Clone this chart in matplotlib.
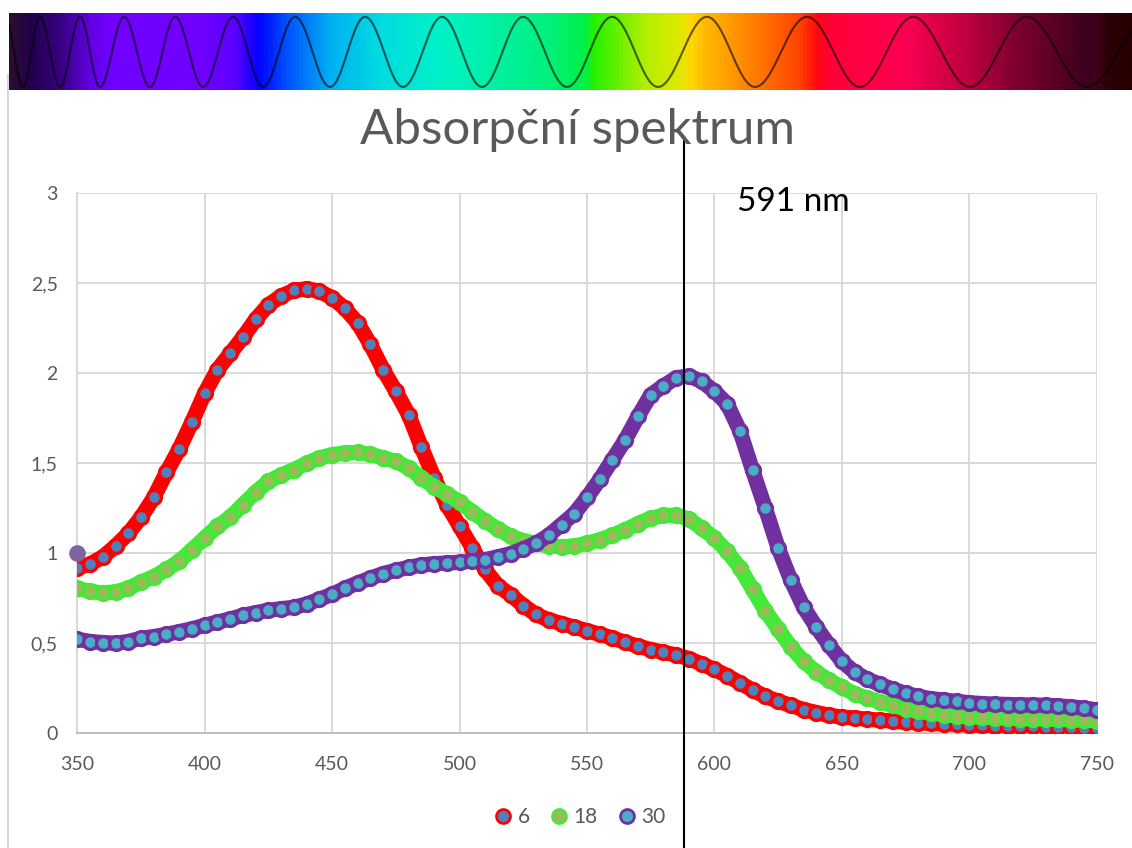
import numpy as np
import matplotlib
matplotlib.use("Agg")
import matplotlib.pyplot as plt
from matplotlib.colors import LinearSegmentedColormap
from matplotlib import transforms

plt.rcParams['font.family'] = ['Lato', 'DejaVu Sans']

# wavelengths (nm), every 5 nm
wl = np.arange(350, 751, 5)

# absorbance of the three samples
abs_6 = [0.92, 0.94, 0.98, 1.04, 1.11, 1.20, 1.31, 1.45, 1.58, 1.73,
         1.89, 2.02, 2.11, 2.20, 2.30, 2.38, 2.43, 2.46, 2.47, 2.455,
         2.42, 2.36, 2.28, 2.16, 2.02, 1.90, 1.77, 1.59, 1.42, 1.27,
         1.15, 1.03, 0.91, 0.82, 0.77, 0.71, 0.66, 0.63, 0.61, 0.59,
         0.57, 0.55, 0.53, 0.505, 0.485, 0.465, 0.45, 0.435, 0.415, 0.385,
         0.355, 0.32, 0.28, 0.24, 0.205, 0.178, 0.155, 0.132, 0.115, 0.10,
         0.09, 0.085, 0.078, 0.073, 0.068, 0.062, 0.058, 0.055, 0.052, 0.05,
         0.047, 0.045, 0.043, 0.041, 0.04, 0.038, 0.037, 0.035, 0.034, 0.032,
         0.031]
abs_18 = [0.806, 0.788, 0.78, 0.786, 0.805, 0.84, 0.87, 0.91, 0.955, 1.02,
          1.085, 1.15, 1.20, 1.27, 1.34, 1.40, 1.435, 1.465, 1.50, 1.53,
          1.548, 1.558, 1.56, 1.55, 1.53, 1.51, 1.475, 1.42, 1.37, 1.33,
          1.285, 1.23, 1.18, 1.135, 1.095, 1.07, 1.055, 1.04, 1.037, 1.04,
          1.056, 1.075, 1.10, 1.13, 1.165, 1.195, 1.21, 1.212, 1.19, 1.14,
          1.085, 1.01, 0.92, 0.80, 0.68, 0.58, 0.48, 0.40, 0.34, 0.295,
          0.255, 0.22, 0.195, 0.175, 0.155, 0.137, 0.122, 0.112, 0.104, 0.097,
          0.092, 0.089, 0.086, 0.084, 0.082, 0.08, 0.079, 0.077, 0.075, 0.073,
          0.07]
abs_30 = [0.522, 0.51, 0.504, 0.50, 0.51, 0.528, 0.537, 0.55, 0.565, 0.58,
          0.60, 0.618, 0.635, 0.655, 0.67, 0.683, 0.692, 0.70, 0.718, 0.745,
          0.772, 0.805, 0.835, 0.862, 0.887, 0.905, 0.922, 0.935, 0.942, 0.946,
          0.95, 0.957, 0.965, 0.98, 0.998, 1.025, 1.056, 1.10, 1.16, 1.22,
          1.31, 1.41, 1.52, 1.63, 1.76, 1.88, 1.93, 1.975, 1.985, 1.955,
          1.90, 1.83, 1.68, 1.46, 1.25, 1.03, 0.85, 0.70, 0.59, 0.49,
          0.40, 0.34, 0.30, 0.272, 0.245, 0.222, 0.205, 0.192, 0.185, 0.177,
          0.17, 0.165, 0.162, 0.16, 0.158, 0.157, 0.156, 0.152, 0.147, 0.14,
          0.13]
# stray single point at the start
extra_x = [350]
extra_y = [1.0]

labels = ["6", "18", "30"]
series = [abs_6, abs_18, abs_30]
faces = ["#4F81BD", "#9BBB59", "#4BACC6"]
edges = ["#FF0000", "#44E838", "#7030A0"]

marked_wl = 588
marked_label = "591 nm"

xticks = [350, 400, 450, 500, 550, 600, 650, 700, 750]
yticks = [0, 0.5, 1, 1.5, 2, 2.5, 3]
ytick_labels = ["0", "0,5", "1", "1,5", "2", "2,5", "3"]

W, H = 1132, 848
fig = plt.figure(figsize=(W / 100, H / 100), dpi=100)

# --- spectrum strip on top ---
strip = fig.add_axes([9 / W, 1 - 90 / H, (W - 9) / W, 77 / H])
stops = [(9, "#2c0c30"), (30, "#220050"), (60, "#3a0085"), (90, "#6400e8"),
         (110, "#7000ff"), (200, "#7000ff"), (235, "#5a00ff"), (257, "#0000ff"),
         (285, "#0050ff"), (330, "#00b0f2"), (380, "#00dce0"), (440, "#00f2c8"),
         (545, "#00f080"), (585, "#00f048"), (595, "#28f000"), (645, "#b0f000"),
         (680, "#e0e800"), (692, "#ffd800"), (705, "#ffba00"), (750, "#ff8400"),
         (800, "#ff4400"), (818, "#ff0a10"), (830, "#ff0038"), (900, "#ff0050"),
         (920, "#f00050"), (967, "#c00040"), (1017, "#800030"), (1067, "#520020"),
         (1090, "#3c0020"), (1100, "#40001a"), (1110, "#2c0008"), (1132, "#260000")]
pos = [(p - 9) / (W - 9) for p, _ in stops]
cmap = LinearSegmentedColormap.from_list("spec", list(zip(pos, [c for _, c in stops])))
grad = np.linspace(0, 1, 1200).reshape(1, -1)
strip.imshow(grad, aspect="auto", cmap=cmap, extent=[9, W, 0, 1])
# wave drawn through measured crest/trough positions (px)
ext = [5, 23, 40, 60, 80, 100, 124, 150, 175, 203, 233, 263, 295, 330, 365,
       403, 442, 482, 523, 567, 612, 658, 707, 755, 807, 860, 913, 970, 1027,
       1087, 1150]
px = np.linspace(9, W, 2000)
phase = np.interp(px, ext, np.arange(len(ext)) * np.pi)
strip.plot(px, 0.495 + 0.455 * np.cos(phase), color="black", lw=1.5, alpha=0.6)
strip.set_xlim(9, W)
strip.set_ylim(0, 1)
strip.axis("off")

# left border of the chart area
fig.add_artist(plt.Line2D([8 / W, 8 / W], [0, 1 - 75 / H], color="#d9d9d9", lw=1.5))

# --- main chart ---
ax = fig.add_axes([77.3 / W, 1 - 733.3 / H, (1096.7 - 77.3) / W, 540 / H])
for y, fc, ec, lab in zip(series, faces, edges, labels):
    ax.plot(wl, y, "-", color=ec, lw=11, solid_capstyle="round", zorder=3)
    ax.plot(wl, y, "o", ls="none", ms=10, mfc=fc, mec=ec, mew=2.4,
            zorder=3)
    # legend handle
    ax.plot([], [], "o", ls="none", ms=10, mfc=fc, mec=ec, mew=2.0, label=lab)
ax.plot(extra_x, extra_y, "o", ms=11, mfc="#8064A2", mec="#8064A2", zorder=4,
        clip_on=False)

ax.set_xlim(350, 750)
ax.set_ylim(0, 3)
ax.set_xticks(xticks)
ax.set_yticks(yticks)
ax.set_yticklabels(ytick_labels)
ax.grid(True, color="#d9d9d9", lw=1.4)
ax.set_axisbelow(True)
for s in ["top", "right"]:
    ax.spines[s].set_visible(False)
ax.spines["left"].set_color("#d9d9d9")
ax.spines["left"].set_linewidth(1.4)
ax.spines["bottom"].set_color("#bfbfbf")
ax.spines["bottom"].set_linewidth(1.4)
ax.tick_params(axis="both", length=0, labelsize=14, labelcolor="#595959")
ax.tick_params(axis="x", pad=16)
ax.tick_params(axis="y", pad=14)

# marker line, runs past the axes
tr = transforms.blended_transform_factory(ax.transData, fig.transFigure)
ax.plot([marked_wl, marked_wl], [0, 1 - 137 / H], color="black", lw=1.5,
        transform=tr, clip_on=False, zorder=5)
fig.text(737 / W, 1 - 202 / H, marked_label, fontsize=24, color="black",
         ha="left", va="center")

fig.text(577 / W, 1 - 130 / H, "Absorpční spektrum", fontsize=35.5,
         color="#595959", ha="center", va="center")

fig.legend(loc="center", bbox_to_anchor=(580 / W, 1 - 817 / H), ncol=3,
           frameon=False, fontsize=15, labelcolor="#595959", handlelength=0.8,
           handletextpad=0.3, columnspacing=1.0)

fig.savefig("out.png", dpi=100)
